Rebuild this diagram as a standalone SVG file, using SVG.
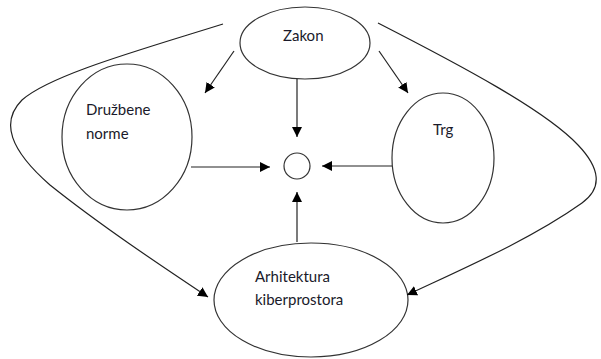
<svg xmlns="http://www.w3.org/2000/svg" width="601" height="359" viewBox="0 0 601 359">
<defs>
<marker id="ah" viewBox="0 0 10 10" refX="10" refY="5" markerWidth="10" markerHeight="10" markerUnits="userSpaceOnUse" orient="auto">
<path d="M0,0 L10,5 L0,10 z" fill="#000"/>
</marker>
<style>
.n{fill:#fff;stroke:#333;stroke-width:1.2}
.c{fill:none;stroke:#222;stroke-width:1.2;marker-end:url(#ah)}
.t{font-family:Lato,"Open Sans","Liberation Sans",sans-serif;font-size:15px;fill:#1a1a2a}
</style>
</defs>
<rect width="601" height="359" fill="#fff"/>
<g id="zakon"><ellipse class="n" cx="305" cy="43" rx="65" ry="36"/><text class="t" x="283" y="41">Zakon</text></g>
<g id="druzbene"><ellipse class="n" cx="127" cy="137" rx="65" ry="73"/><text class="t" x="86" y="115">Družbene</text><text class="t" x="86" y="139">norme</text></g>
<g id="trg"><ellipse class="n" cx="443" cy="158" rx="51" ry="65"/><text class="t" x="433" y="135">Trg</text></g>
<g id="center"><circle class="n" cx="297" cy="166" r="13"/></g>
<g id="arhitektura"><ellipse class="n" cx="311" cy="300" rx="97" ry="57"/><text class="t" x="255" y="282">Arhitektura</text><text class="t" x="255" y="305">kiberprostora</text></g>
<g id="connectors">
<path class="c" d="M234,51 L205,93"/>
<path class="c" d="M297,79 L297,137"/>
<path class="c" d="M379,51 L408,93"/>
<path class="c" d="M191,167 L270,167"/>
<path class="c" d="M392,166 L322,166"/>
<path class="c" d="M297,242 L297,192"/>
<path class="c" d="M223,24 C140,50 50,75 22,100 C0,122 10,150 50,185 C100,225 160,265 208,297"/>
<path class="c" d="M378,23 C460,65 545,110 578,145 C600,168 603,188 582,203 C530,240 460,270 407,295"/>
</g>
</svg>
